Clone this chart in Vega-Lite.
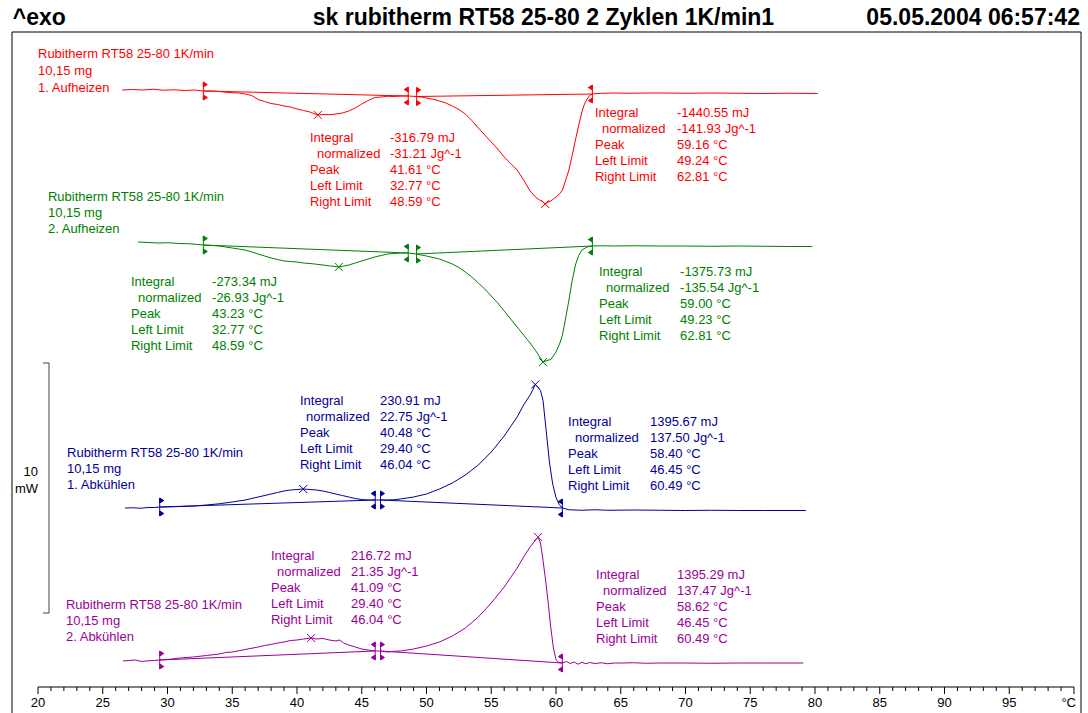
{
"$schema":"https://vega.github.io/schema/vega-lite/v6.json",
"width":1069,"height":655,
"autosize":{"type":"none"},
"padding":{"left":12,"top":32,"right":7,"bottom":26},
"background":"#ffffff",
"config":{"view":{"stroke":null},"font":"Liberation Sans","axis":{"disable":true}},
"datasets":{
"curves":[
{"s":"r","T":26.5,"y":24.92},{"s":"r","T":27.3,"y":24.94},{"s":"r","T":28.1,"y":24.92},{"s":"r","T":28.9,"y":24.95},{"s":"r","T":29.7,"y":24.91},{"s":"r","T":30.5,"y":24.93},{"s":"r","T":31.3,"y":24.90},{"s":"r","T":32.1,"y":24.92},{"s":"r","T":32.77,"y":24.88},{"s":"r","T":33.5,"y":24.88},{"s":"r","T":34.2,"y":24.85},{"s":"r","T":35.0,"y":24.81},{"s":"r","T":35.5,"y":24.80},{"s":"r","T":36.0,"y":24.76},{"s":"r","T":36.5,"y":24.70},{"s":"r","T":37.0,"y":24.54},{"s":"r","T":37.5,"y":24.46},{"s":"r","T":38.0,"y":24.38},{"s":"r","T":38.5,"y":24.34},{"s":"r","T":39.0,"y":24.28},{"s":"r","T":39.5,"y":24.24},{"s":"r","T":40.0,"y":24.16},{"s":"r","T":40.5,"y":24.10},{"s":"r","T":41.0,"y":24.04},{"s":"r","T":41.3,"y":23.98},{"s":"r","T":41.61,"y":23.92},{"s":"r","T":42.0,"y":23.94},{"s":"r","T":42.5,"y":23.93},{"s":"r","T":43.0,"y":23.96},{"s":"r","T":43.5,"y":24.00},{"s":"r","T":44.0,"y":24.08},{"s":"r","T":44.5,"y":24.20},{"s":"r","T":45.0,"y":24.36},{"s":"r","T":45.5,"y":24.50},{"s":"r","T":46.0,"y":24.62},{"s":"r","T":46.5,"y":24.64},{"s":"r","T":47.0,"y":24.67},{"s":"r","T":47.5,"y":24.66},{"s":"r","T":48.0,"y":24.68},{"s":"r","T":48.59,"y":24.68},{"s":"r","T":49.24,"y":24.66},{"s":"r","T":49.6,"y":24.64},{"s":"r","T":50.0,"y":24.60},{"s":"r","T":50.5,"y":24.55},{"s":"r","T":51.0,"y":24.48},{"s":"r","T":51.5,"y":24.40},{"s":"r","T":52.0,"y":24.28},{"s":"r","T":52.5,"y":24.14},{"s":"r","T":53.0,"y":23.96},{"s":"r","T":53.5,"y":23.70},{"s":"r","T":54.0,"y":23.40},{"s":"r","T":54.5,"y":23.12},{"s":"r","T":55.0,"y":22.84},{"s":"r","T":55.5,"y":22.56},{"s":"r","T":56.0,"y":22.24},{"s":"r","T":56.5,"y":21.98},{"s":"r","T":57.0,"y":21.72},{"s":"r","T":57.5,"y":21.32},{"s":"r","T":58.0,"y":20.88},{"s":"r","T":58.5,"y":20.60},{"s":"r","T":58.8,"y":20.50},{"s":"r","T":59.0,"y":20.44},{"s":"r","T":59.16,"y":20.36},{"s":"r","T":59.4,"y":20.44},{"s":"r","T":59.6,"y":20.48},{"s":"r","T":59.8,"y":20.56},{"s":"r","T":60.0,"y":20.64},{"s":"r","T":60.3,"y":20.78},{"s":"r","T":60.5,"y":20.92},{"s":"r","T":60.8,"y":21.40},{"s":"r","T":61.0,"y":21.72},{"s":"r","T":61.25,"y":22.30},{"s":"r","T":61.5,"y":22.92},{"s":"r","T":61.75,"y":23.50},{"s":"r","T":62.0,"y":24.04},{"s":"r","T":62.2,"y":24.36},{"s":"r","T":62.4,"y":24.56},{"s":"r","T":62.6,"y":24.70},{"s":"r","T":62.81,"y":24.76},{"s":"r","T":63.5,"y":24.79},{"s":"r","T":64.5,"y":24.80},{"s":"r","T":65.5,"y":24.79},{"s":"r","T":67,"y":24.80},{"s":"r","T":68.5,"y":24.80},{"s":"r","T":70,"y":24.79},{"s":"r","T":72,"y":24.80},{"s":"r","T":74,"y":24.79},{"s":"r","T":76,"y":24.78},{"s":"r","T":78,"y":24.79},{"s":"r","T":80.2,"y":24.78},
{"s":"g","T":27.72,"y":18.84},{"s":"g","T":28.5,"y":18.82},{"s":"g","T":29.3,"y":18.80},{"s":"g","T":30.1,"y":18.81},{"s":"g","T":30.9,"y":18.78},{"s":"g","T":31.7,"y":18.77},{"s":"g","T":32.3,"y":18.74},{"s":"g","T":32.77,"y":18.72},{"s":"g","T":33.5,"y":18.70},{"s":"g","T":34.0,"y":18.68},{"s":"g","T":34.5,"y":18.64},{"s":"g","T":35.0,"y":18.60},{"s":"g","T":35.5,"y":18.56},{"s":"g","T":36.0,"y":18.52},{"s":"g","T":36.5,"y":18.44},{"s":"g","T":37.0,"y":18.36},{"s":"g","T":37.5,"y":18.28},{"s":"g","T":38.0,"y":18.20},{"s":"g","T":38.5,"y":18.14},{"s":"g","T":39.0,"y":18.08},{"s":"g","T":39.5,"y":18.06},{"s":"g","T":40.0,"y":18.04},{"s":"g","T":40.5,"y":18.00},{"s":"g","T":41.0,"y":17.98},{"s":"g","T":41.5,"y":17.95},{"s":"g","T":42.0,"y":17.92},{"s":"g","T":42.6,"y":17.88},{"s":"g","T":43.23,"y":17.84},{"s":"g","T":43.6,"y":17.88},{"s":"g","T":44.0,"y":17.92},{"s":"g","T":44.5,"y":18.00},{"s":"g","T":45.0,"y":18.08},{"s":"g","T":45.5,"y":18.16},{"s":"g","T":46.0,"y":18.24},{"s":"g","T":46.5,"y":18.30},{"s":"g","T":47.0,"y":18.36},{"s":"g","T":47.5,"y":18.38},{"s":"g","T":48.0,"y":18.40},{"s":"g","T":48.59,"y":18.40},{"s":"g","T":49.23,"y":18.36},{"s":"g","T":49.6,"y":18.32},{"s":"g","T":50.0,"y":18.28},{"s":"g","T":50.5,"y":18.22},{"s":"g","T":51.0,"y":18.16},{"s":"g","T":51.5,"y":18.06},{"s":"g","T":52.0,"y":17.96},{"s":"g","T":52.5,"y":17.82},{"s":"g","T":53.0,"y":17.64},{"s":"g","T":53.5,"y":17.44},{"s":"g","T":54.0,"y":17.20},{"s":"g","T":54.5,"y":16.96},{"s":"g","T":55.0,"y":16.68},{"s":"g","T":55.5,"y":16.40},{"s":"g","T":56.0,"y":16.08},{"s":"g","T":56.5,"y":15.76},{"s":"g","T":57.0,"y":15.44},{"s":"g","T":57.5,"y":15.12},{"s":"g","T":58.0,"y":14.80},{"s":"g","T":58.5,"y":14.44},{"s":"g","T":58.8,"y":14.20},{"s":"g","T":59.0,"y":14.04},{"s":"g","T":59.3,"y":14.10},{"s":"g","T":59.6,"y":14.14},{"s":"g","T":60.0,"y":14.44},{"s":"g","T":60.3,"y":14.80},{"s":"g","T":60.5,"y":15.12},{"s":"g","T":60.75,"y":15.80},{"s":"g","T":61.0,"y":16.52},{"s":"g","T":61.25,"y":17.30},{"s":"g","T":61.5,"y":17.92},{"s":"g","T":61.75,"y":18.30},{"s":"g","T":62.0,"y":18.52},{"s":"g","T":62.4,"y":18.64},{"s":"g","T":62.81,"y":18.68},{"s":"g","T":63.5,"y":18.69},{"s":"g","T":64.5,"y":18.68},{"s":"g","T":66,"y":18.69},{"s":"g","T":68,"y":18.68},{"s":"g","T":70,"y":18.68},{"s":"g","T":72,"y":18.67},{"s":"g","T":74,"y":18.68},{"s":"g","T":76,"y":18.67},{"s":"g","T":78,"y":18.66},{"s":"g","T":79.8,"y":18.66},
{"s":"b","T":26.72,"y":8.20},{"s":"b","T":27.3,"y":8.21},{"s":"b","T":27.9,"y":8.19},{"s":"b","T":28.5,"y":8.22},{"s":"b","T":29.0,"y":8.22},{"s":"b","T":29.4,"y":8.24},{"s":"b","T":30.2,"y":8.25},{"s":"b","T":31.0,"y":8.26},{"s":"b","T":32.0,"y":8.28},{"s":"b","T":33.0,"y":8.32},{"s":"b","T":34.0,"y":8.37},{"s":"b","T":35.0,"y":8.44},{"s":"b","T":36.0,"y":8.52},{"s":"b","T":37.0,"y":8.64},{"s":"b","T":38.0,"y":8.76},{"s":"b","T":38.5,"y":8.82},{"s":"b","T":39.0,"y":8.88},{"s":"b","T":39.5,"y":8.92},{"s":"b","T":40.0,"y":8.94},{"s":"b","T":40.48,"y":8.96},{"s":"b","T":41.0,"y":8.94},{"s":"b","T":41.5,"y":8.92},{"s":"b","T":42.0,"y":8.88},{"s":"b","T":42.5,"y":8.82},{"s":"b","T":43.0,"y":8.76},{"s":"b","T":43.5,"y":8.70},{"s":"b","T":44.0,"y":8.64},{"s":"b","T":44.5,"y":8.58},{"s":"b","T":45.0,"y":8.54},{"s":"b","T":45.5,"y":8.52},{"s":"b","T":46.04,"y":8.52},{"s":"b","T":46.45,"y":8.52},{"s":"b","T":47.0,"y":8.52},{"s":"b","T":47.5,"y":8.53},{"s":"b","T":48.0,"y":8.56},{"s":"b","T":48.5,"y":8.60},{"s":"b","T":49.0,"y":8.64},{"s":"b","T":49.5,"y":8.70},{"s":"b","T":50.0,"y":8.76},{"s":"b","T":50.5,"y":8.86},{"s":"b","T":51.0,"y":8.96},{"s":"b","T":51.5,"y":9.08},{"s":"b","T":52.0,"y":9.20},{"s":"b","T":52.5,"y":9.36},{"s":"b","T":53.0,"y":9.52},{"s":"b","T":53.5,"y":9.72},{"s":"b","T":54.0,"y":9.92},{"s":"b","T":54.5,"y":10.18},{"s":"b","T":55.0,"y":10.44},{"s":"b","T":55.5,"y":10.76},{"s":"b","T":56.0,"y":11.08},{"s":"b","T":56.5,"y":11.46},{"s":"b","T":57.0,"y":11.84},{"s":"b","T":57.5,"y":12.32},{"s":"b","T":58.0,"y":12.72},{"s":"b","T":58.2,"y":12.92},{"s":"b","T":58.4,"y":13.14},{"s":"b","T":58.6,"y":13.04},{"s":"b","T":58.8,"y":12.90},{"s":"b","T":59.0,"y":12.50},{"s":"b","T":59.25,"y":11.25},{"s":"b","T":59.5,"y":10.00},{"s":"b","T":59.75,"y":9.15},{"s":"b","T":60.0,"y":8.62},{"s":"b","T":60.25,"y":8.34},{"s":"b","T":60.49,"y":8.20},{"s":"b","T":61.0,"y":8.13},{"s":"b","T":62,"y":8.11},{"s":"b","T":63,"y":8.13},{"s":"b","T":64,"y":8.11},{"s":"b","T":66,"y":8.12},{"s":"b","T":68,"y":8.11},{"s":"b","T":70,"y":8.10},{"s":"b","T":72,"y":8.11},{"s":"b","T":74,"y":8.10},{"s":"b","T":76,"y":8.10},{"s":"b","T":79.3,"y":8.10},
{"s":"m","T":26.56,"y":2.08},{"s":"m","T":27.0,"y":2.10},{"s":"m","T":27.5,"y":2.12},{"s":"m","T":28.0,"y":2.06},{"s":"m","T":28.5,"y":2.09},{"s":"m","T":29.0,"y":2.10},{"s":"m","T":29.4,"y":2.12},{"s":"m","T":30.0,"y":2.14},{"s":"m","T":30.5,"y":2.17},{"s":"m","T":31.0,"y":2.20},{"s":"m","T":32.0,"y":2.24},{"s":"m","T":33.0,"y":2.30},{"s":"m","T":34.0,"y":2.36},{"s":"m","T":34.5,"y":2.42},{"s":"m","T":35.0,"y":2.44},{"s":"m","T":36.0,"y":2.54},{"s":"m","T":37.0,"y":2.64},{"s":"m","T":37.5,"y":2.70},{"s":"m","T":38.0,"y":2.74},{"s":"m","T":38.5,"y":2.80},{"s":"m","T":39.0,"y":2.84},{"s":"m","T":39.5,"y":2.90},{"s":"m","T":40.0,"y":2.92},{"s":"m","T":40.5,"y":2.96},{"s":"m","T":41.09,"y":3.00},{"s":"m","T":41.5,"y":2.96},{"s":"m","T":42.0,"y":2.98},{"s":"m","T":42.5,"y":2.92},{"s":"m","T":43.0,"y":2.88},{"s":"m","T":43.3,"y":2.92},{"s":"m","T":43.6,"y":2.80},{"s":"m","T":44.0,"y":2.72},{"s":"m","T":44.5,"y":2.64},{"s":"m","T":45.0,"y":2.56},{"s":"m","T":45.5,"y":2.52},{"s":"m","T":46.04,"y":2.48},{"s":"m","T":46.45,"y":2.48},{"s":"m","T":47.0,"y":2.44},{"s":"m","T":47.5,"y":2.47},{"s":"m","T":48.0,"y":2.48},{"s":"m","T":48.5,"y":2.52},{"s":"m","T":49.0,"y":2.56},{"s":"m","T":49.5,"y":2.62},{"s":"m","T":50.0,"y":2.68},{"s":"m","T":50.5,"y":2.76},{"s":"m","T":51.0,"y":2.84},{"s":"m","T":51.5,"y":2.96},{"s":"m","T":52.0,"y":3.08},{"s":"m","T":52.5,"y":3.24},{"s":"m","T":53.0,"y":3.40},{"s":"m","T":53.5,"y":3.62},{"s":"m","T":54.0,"y":3.84},{"s":"m","T":54.5,"y":4.12},{"s":"m","T":55.0,"y":4.40},{"s":"m","T":55.5,"y":4.72},{"s":"m","T":56.0,"y":5.04},{"s":"m","T":56.5,"y":5.42},{"s":"m","T":57.0,"y":5.80},{"s":"m","T":57.5,"y":6.24},{"s":"m","T":58.0,"y":6.64},{"s":"m","T":58.3,"y":6.84},{"s":"m","T":58.62,"y":7.04},{"s":"m","T":58.8,"y":6.80},{"s":"m","T":59.0,"y":6.10},{"s":"m","T":59.2,"y":5.30},{"s":"m","T":59.4,"y":4.40},{"s":"m","T":59.6,"y":3.40},{"s":"m","T":59.8,"y":2.60},{"s":"m","T":60.0,"y":2.14},{"s":"m","T":60.2,"y":2.02},{"s":"m","T":60.49,"y":2.00},{"s":"m","T":60.8,"y":2.06},{"s":"m","T":61.1,"y":1.98},{"s":"m","T":61.4,"y":2.04},{"s":"m","T":61.7,"y":1.95},{"s":"m","T":62.0,"y":2.03},{"s":"m","T":62.3,"y":1.97},{"s":"m","T":62.6,"y":2.02},{"s":"m","T":63.0,"y":1.98},{"s":"m","T":63.5,"y":2.01},{"s":"m","T":64.0,"y":1.97},{"s":"m","T":64.5,"y":2.00},{"s":"m","T":65,"y":2.00},{"s":"m","T":66,"y":2.01},{"s":"m","T":67,"y":1.99},{"s":"m","T":68,"y":2.00},{"s":"m","T":70,"y":2.00},{"s":"m","T":72,"y":1.99},{"s":"m","T":74,"y":2.00},{"s":"m","T":76,"y":2.00},{"s":"m","T":79.1,"y":2.00}
],
"baselines":[
{"s":"r","T":32.77,"y":24.88,"T2":48.59,"y2":24.68},{"s":"r","T":49.24,"y":24.66,"T2":62.81,"y2":24.76},
{"s":"g","T":32.77,"y":18.72,"T2":48.59,"y2":18.40},{"s":"g","T":49.23,"y":18.36,"T2":62.81,"y2":18.68},
{"s":"b","T":29.40,"y":8.24,"T2":46.04,"y2":8.52},{"s":"b","T":46.45,"y":8.52,"T2":60.49,"y2":8.20},
{"s":"m","T":29.40,"y":2.12,"T2":46.04,"y2":2.48},{"s":"m","T":46.45,"y":2.48,"T2":60.49,"y2":2.00}
],
"markers":[
{"s":"r","T":32.77,"y":24.88,"m":"L"},{"s":"r","T":48.59,"y":24.68,"m":"R"},{"s":"r","T":49.24,"y":24.66,"m":"L"},{"s":"r","T":62.81,"y":24.76,"m":"R"},{"s":"r","T":41.61,"y":23.92,"m":"P"},{"s":"r","T":59.16,"y":20.36,"m":"P"},
{"s":"g","T":32.77,"y":18.72,"m":"L"},{"s":"g","T":48.59,"y":18.40,"m":"R"},{"s":"g","T":49.23,"y":18.36,"m":"L"},{"s":"g","T":62.81,"y":18.68,"m":"R"},{"s":"g","T":43.23,"y":17.84,"m":"P"},{"s":"g","T":59.00,"y":14.04,"m":"P"},
{"s":"b","T":29.40,"y":8.24,"m":"L"},{"s":"b","T":46.04,"y":8.52,"m":"R"},{"s":"b","T":46.45,"y":8.52,"m":"L"},{"s":"b","T":60.49,"y":8.20,"m":"R"},{"s":"b","T":40.48,"y":8.96,"m":"P"},{"s":"b","T":58.40,"y":13.14,"m":"P"},
{"s":"m","T":29.40,"y":2.12,"m":"L"},{"s":"m","T":46.04,"y":2.48,"m":"R"},{"s":"m","T":46.45,"y":2.48,"m":"L"},{"s":"m","T":60.49,"y":2.00,"m":"R"},{"s":"m","T":41.09,"y":3.00,"m":"P"},{"s":"m","T":58.62,"y":7.04,"m":"P"}
],
"texts":[
{"s":"r","T":20.0,"y":26.36,"t":"Rubitherm RT58 25-80 1K/min"},{"s":"r","T":20.0,"y":25.68,"t":"10,15 mg"},{"s":"r","T":20.0,"y":25.00,"t":"1. Aufheizen"},
{"s":"r","T":41.0,"y":23.00,"t":"Integral"},{"s":"r","T":41.54,"y":22.36,"t":"normalized"},{"s":"r","T":41.0,"y":21.72,"t":"Peak"},{"s":"r","T":41.0,"y":21.08,"t":"Left Limit"},{"s":"r","T":41.0,"y":20.44,"t":"Right Limit"},
{"s":"r","T":47.18,"y":23.00,"t":"-316.79 mJ"},{"s":"r","T":47.18,"y":22.36,"t":"-31.21 Jg^-1"},{"s":"r","T":47.18,"y":21.72,"t":"41.61 °C"},{"s":"r","T":47.18,"y":21.08,"t":"32.77 °C"},{"s":"r","T":47.18,"y":20.44,"t":"48.59 °C"},
{"s":"r","T":63.01,"y":24.00,"t":"Integral"},{"s":"r","T":63.55,"y":23.36,"t":"normalized"},{"s":"r","T":63.01,"y":22.72,"t":"Peak"},{"s":"r","T":63.01,"y":22.08,"t":"Left Limit"},{"s":"r","T":63.01,"y":21.44,"t":"Right Limit"},
{"s":"r","T":69.34,"y":24.00,"t":"-1440.55 mJ"},{"s":"r","T":69.34,"y":23.36,"t":"-141.93 Jg^-1"},{"s":"r","T":69.34,"y":22.72,"t":"59.16 °C"},{"s":"r","T":69.34,"y":22.08,"t":"49.24 °C"},{"s":"r","T":69.34,"y":21.44,"t":"62.81 °C"},
{"s":"g","T":20.77,"y":20.64,"t":"Rubitherm RT58 25-80 1K/min"},{"s":"g","T":20.77,"y":20.00,"t":"10,15 mg"},{"s":"g","T":20.77,"y":19.36,"t":"2. Aufheizen"},
{"s":"g","T":27.18,"y":17.24,"t":"Integral"},{"s":"g","T":27.72,"y":16.60,"t":"normalized"},{"s":"g","T":27.18,"y":15.96,"t":"Peak"},{"s":"g","T":27.18,"y":15.32,"t":"Left Limit"},{"s":"g","T":27.18,"y":14.68,"t":"Right Limit"},
{"s":"g","T":33.44,"y":17.24,"t":"-273.34 mJ"},{"s":"g","T":33.44,"y":16.60,"t":"-26.93 Jg^-1"},{"s":"g","T":33.44,"y":15.96,"t":"43.23 °C"},{"s":"g","T":33.44,"y":15.32,"t":"32.77 °C"},{"s":"g","T":33.44,"y":14.68,"t":"48.59 °C"},
{"s":"g","T":63.32,"y":17.64,"t":"Integral"},{"s":"g","T":63.86,"y":17.00,"t":"normalized"},{"s":"g","T":63.32,"y":16.36,"t":"Peak"},{"s":"g","T":63.32,"y":15.72,"t":"Left Limit"},{"s":"g","T":63.32,"y":15.08,"t":"Right Limit"},
{"s":"g","T":69.58,"y":17.64,"t":"-1375.73 mJ"},{"s":"g","T":69.58,"y":17.00,"t":"-135.54 Jg^-1"},{"s":"g","T":69.58,"y":16.36,"t":"59.00 °C"},{"s":"g","T":69.58,"y":15.72,"t":"49.23 °C"},{"s":"g","T":69.58,"y":15.08,"t":"62.81 °C"},
{"s":"b","T":22.24,"y":10.40,"t":"Rubitherm RT58 25-80 1K/min"},{"s":"b","T":22.24,"y":9.76,"t":"10,15 mg"},{"s":"b","T":22.24,"y":9.12,"t":"1. Abkühlen"},
{"s":"b","T":40.23,"y":12.48,"t":"Integral"},{"s":"b","T":40.70,"y":11.84,"t":"normalized"},{"s":"b","T":40.23,"y":11.20,"t":"Peak"},{"s":"b","T":40.23,"y":10.56,"t":"Left Limit"},{"s":"b","T":40.23,"y":9.92,"t":"Right Limit"},
{"s":"b","T":46.41,"y":12.48,"t":"230.91 mJ"},{"s":"b","T":46.41,"y":11.84,"t":"22.75 Jg^-1"},{"s":"b","T":46.41,"y":11.20,"t":"40.48 °C"},{"s":"b","T":46.41,"y":10.56,"t":"29.40 °C"},{"s":"b","T":46.41,"y":9.92,"t":"46.04 °C"},
{"s":"b","T":60.93,"y":11.64,"t":"Integral"},{"s":"b","T":61.47,"y":11.00,"t":"normalized"},{"s":"b","T":60.93,"y":10.36,"t":"Peak"},{"s":"b","T":60.93,"y":9.72,"t":"Left Limit"},{"s":"b","T":60.93,"y":9.08,"t":"Right Limit"},
{"s":"b","T":67.26,"y":11.64,"t":"1395.67 mJ"},{"s":"b","T":67.26,"y":11.00,"t":"137.50 Jg^-1"},{"s":"b","T":67.26,"y":10.36,"t":"58.40 °C"},{"s":"b","T":67.26,"y":9.72,"t":"46.45 °C"},{"s":"b","T":67.26,"y":9.08,"t":"60.49 °C"},
{"s":"m","T":22.16,"y":4.32,"t":"Rubitherm  RT58 25-80 1K/min"},{"s":"m","T":22.16,"y":3.68,"t":"10,15 mg"},{"s":"m","T":22.16,"y":3.04,"t":"2. Abkühlen"},
{"s":"m","T":37.99,"y":6.28,"t":"Integral"},{"s":"m","T":38.46,"y":5.64,"t":"normalized"},{"s":"m","T":37.99,"y":5.00,"t":"Peak"},{"s":"m","T":37.99,"y":4.36,"t":"Left Limit"},{"s":"m","T":37.99,"y":3.72,"t":"Right Limit"},
{"s":"m","T":44.17,"y":6.28,"t":"216.72 mJ"},{"s":"m","T":44.17,"y":5.64,"t":"21.35 Jg^-1"},{"s":"m","T":44.17,"y":5.00,"t":"41.09 °C"},{"s":"m","T":44.17,"y":4.36,"t":"29.40 °C"},{"s":"m","T":44.17,"y":3.72,"t":"46.04 °C"},
{"s":"m","T":63.09,"y":5.52,"t":"Integral"},{"s":"m","T":63.63,"y":4.88,"t":"normalized"},{"s":"m","T":63.09,"y":4.24,"t":"Peak"},{"s":"m","T":63.09,"y":3.60,"t":"Left Limit"},{"s":"m","T":63.09,"y":2.96,"t":"Right Limit"},
{"s":"m","T":69.34,"y":5.52,"t":"1395.29 mJ"},{"s":"m","T":69.34,"y":4.88,"t":"137.47 Jg^-1"},{"s":"m","T":69.34,"y":4.24,"t":"58.62 °C"},{"s":"m","T":69.34,"y":3.60,"t":"46.45 °C"},{"s":"m","T":69.34,"y":2.96,"t":"60.49 °C"}
],
"frame":[
{"T":17.992,"y":27.24,"T2":100.541,"y2":27.24},
{"T":17.992,"y":27.24,"T2":17.992,"y2":-0.2},
{"T":100.541,"y":27.24,"T2":100.541,"y2":-0.2}
],
"majorTicks":[
{"T":20,"lab":"20"},{"T":25,"lab":"25"},{"T":30,"lab":"30"},{"T":35,"lab":"35"},{"T":40,"lab":"40"},{"T":45,"lab":"45"},{"T":50,"lab":"50"},{"T":55,"lab":"55"},{"T":60,"lab":"60"},{"T":65,"lab":"65"},{"T":70,"lab":"70"},{"T":75,"lab":"75"},{"T":80,"lab":"80"},{"T":85,"lab":"85"},{"T":90,"lab":"90"},{"T":95,"lab":"95"},{"T":100,"lab":"°C"}
],
"minorTicks":[
{"T":21},{"T":22},{"T":23},{"T":24},{"T":26},{"T":27},{"T":28},{"T":29},{"T":31},{"T":32},{"T":33},{"T":34},{"T":36},{"T":37},{"T":38},{"T":39},{"T":41},{"T":42},{"T":43},{"T":44},{"T":46},{"T":47},{"T":48},{"T":49},{"T":51},{"T":52},{"T":53},{"T":54},{"T":56},{"T":57},{"T":58},{"T":59},{"T":61},{"T":62},{"T":63},{"T":64},{"T":66},{"T":67},{"T":68},{"T":69},{"T":71},{"T":72},{"T":73},{"T":74},{"T":76},{"T":77},{"T":78},{"T":79},{"T":81},{"T":82},{"T":83},{"T":84},{"T":86},{"T":87},{"T":88},{"T":89},{"T":91},{"T":92},{"T":93},{"T":94},{"T":96},{"T":97},{"T":98},{"T":99}
]
},
"layer":[
{"data":{"name":"curves"},
 "mark":{"type":"line","strokeWidth":1,"clip":false},
 "encoding":{
  "x":{"field":"T","type":"quantitative","axis":null,"scale":{"domain":[17.992,100.541],"nice":false,"zero":false}},
  "y":{"field":"y","type":"quantitative","scale":{"domain":[1.04,27.24],"nice":false,"zero":false},"axis":null},
  "color":{"field":"s","type":"nominal","scale":{"domain":["r","g","b","m"],"range":["#ff0000","#008000","#000099","#990099"]},"legend":null}
 }},
{"data":{"name":"baselines"},
 "mark":{"type":"rule","strokeWidth":1},
 "encoding":{
  "x":{"field":"T","type":"quantitative","axis":null,"scale":{"domain":[17.992,100.541],"nice":false,"zero":false}},
  "x2":{"field":"T2"},
  "y":{"field":"y","type":"quantitative","scale":{"domain":[1.04,27.24],"nice":false,"zero":false},"axis":null},
  "y2":{"field":"y2"},
  "color":{"field":"s","type":"nominal","scale":{"domain":["r","g","b","m"],"range":["#ff0000","#008000","#000099","#990099"]},"legend":null}
 }},
{"data":{"name":"markers"},
 "mark":{"type":"point","filled":true,"opacity":1,"strokeWidth":1,"size":4},
 "encoding":{
  "x":{"field":"T","type":"quantitative","axis":null,"scale":{"domain":[17.992,100.541],"nice":false,"zero":false}},
  "y":{"field":"y","type":"quantitative","scale":{"domain":[1.04,27.24],"nice":false,"zero":false},"axis":null},
  "shape":{"field":"m","type":"nominal","scale":{"domain":["L","R","P"],"range":["M0,-9L0,9M0,-9L4,-6.5L0,-4ZM0,4L4,6.5L0,9Z","M0,-9L0,9M0,-9L-4,-6.5L0,-4ZM0,4L-4,6.5L0,9Z","M-4,-4L4,4M-4,4L4,-4"]},"legend":null},
  "fill":{"field":"s","type":"nominal","scale":{"domain":["r","g","b","m"],"range":["#ff0000","#008000","#000099","#990099"]},"legend":null},
  "stroke":{"field":"s","type":"nominal","scale":{"domain":["r","g","b","m"],"range":["#ff0000","#008000","#000099","#990099"]},"legend":null}
 }},
{"data":{"name":"texts"},
 "mark":{"type":"text","align":"left","baseline":"middle","font":"Liberation Sans","fontSize":13},
 "encoding":{
  "x":{"field":"T","type":"quantitative","axis":null,"scale":{"domain":[17.992,100.541],"nice":false,"zero":false}},
  "y":{"field":"y","type":"quantitative","scale":{"domain":[1.04,27.24],"nice":false,"zero":false},"axis":null},
  "text":{"field":"t"},
  "color":{"field":"s","type":"nominal","scale":{"domain":["r","g","b","m"],"range":["#ff0000","#008000","#000099","#990099"]},"legend":null}
 }},
{"data":{"name":"frame"},
 "mark":{"type":"rule","color":"#000000","strokeWidth":1},
 "encoding":{
  "x":{"field":"T","type":"quantitative","axis":null,"scale":{"domain":[17.992,100.541],"nice":false,"zero":false}},
  "x2":{"field":"T2"},
  "y":{"field":"y","type":"quantitative","scale":{"domain":[1.04,27.24],"nice":false,"zero":false},"axis":null},
  "y2":{"field":"y2"}
 }},
{"data":{"values":[{"T":20.0,"y":1.04,"T2":100.0,"y2":1.04}]},
 "mark":{"type":"rule","color":"#000000","strokeWidth":1},
 "encoding":{
  "x":{"field":"T","type":"quantitative","axis":null,"scale":{"domain":[17.992,100.541],"nice":false,"zero":false}},
  "x2":{"field":"T2"},
  "y":{"field":"y","type":"quantitative","scale":{"domain":[1.04,27.24],"nice":false,"zero":false},"axis":null},
  "y2":{"field":"y2"}
 }},
{"data":{"name":"majorTicks"},
 "mark":{"type":"rule","color":"#000000","strokeWidth":1},
 "encoding":{
  "x":{"field":"T","type":"quantitative","axis":null,"scale":{"domain":[17.992,100.541],"nice":false,"zero":false}},
  "y":{"datum":1.04,"type":"quantitative","scale":{"domain":[1.04,27.24],"nice":false,"zero":false},"axis":null},
  "y2":{"datum":0.76}
 }},
{"data":{"name":"minorTicks"},
 "mark":{"type":"rule","color":"#000000","strokeWidth":1},
 "encoding":{
  "x":{"field":"T","type":"quantitative","axis":null,"scale":{"domain":[17.992,100.541],"nice":false,"zero":false}},
  "y":{"datum":1.04,"type":"quantitative","scale":{"domain":[1.04,27.24],"nice":false,"zero":false},"axis":null},
  "y2":{"datum":0.88}
 }},
{"data":{"name":"majorTicks"},
 "transform":[{"filter":"datum.T < 100"}],
 "mark":{"type":"text","align":"center","baseline":"middle","font":"Liberation Sans","fontSize":13,"color":"#000000"},
 "encoding":{
  "x":{"field":"T","type":"quantitative","axis":null,"scale":{"domain":[17.992,100.541],"nice":false,"zero":false}},
  "y":{"datum":0.40,"type":"quantitative","scale":{"domain":[1.04,27.24],"nice":false,"zero":false},"axis":null},
  "text":{"field":"lab"}
 }},
{"data":{"name":"majorTicks"},
 "transform":[{"filter":"datum.T == 100"}],
 "mark":{"type":"text","align":"right","baseline":"middle","font":"Liberation Sans","fontSize":13,"color":"#000000","dx":2},
 "encoding":{
  "x":{"field":"T","type":"quantitative","axis":null,"scale":{"domain":[17.992,100.541],"nice":false,"zero":false}},
  "y":{"datum":0.40,"type":"quantitative","scale":{"domain":[1.04,27.24],"nice":false,"zero":false},"axis":null},
  "text":{"field":"lab"}
 }},
{"data":{"values":[{"T":20.85,"y":4,"T2":20.85,"y2":14},{"T":20.39,"y":14,"T2":20.85,"y2":14},{"T":20.39,"y":4,"T2":20.85,"y2":4}]},
 "mark":{"type":"rule","color":"#404040","strokeWidth":1},
 "encoding":{
  "x":{"field":"T","type":"quantitative","axis":null,"scale":{"domain":[17.992,100.541],"nice":false,"zero":false}},
  "x2":{"field":"T2"},
  "y":{"field":"y","type":"quantitative","scale":{"domain":[1.04,27.24],"nice":false,"zero":false},"axis":null},
  "y2":{"field":"y2"}
 }},
{"data":{"values":[{"T":20.0,"y":9.64,"t":"10"},{"T":20.0,"y":8.96,"t":"mW"}]},
 "mark":{"type":"text","align":"right","baseline":"middle","font":"Liberation Sans","fontSize":13,"color":"#000000"},
 "encoding":{
  "x":{"field":"T","type":"quantitative","axis":null,"scale":{"domain":[17.992,100.541],"nice":false,"zero":false}},
  "y":{"field":"y","type":"quantitative","scale":{"domain":[1.04,27.24],"nice":false,"zero":false},"axis":null},
  "text":{"field":"t"}
 }},
{"data":{"values":[{"T":18.05,"y":27.8,"t":"^exo"}]},
 "mark":{"type":"text","align":"left","baseline":"middle","font":"Liberation Sans","fontSize":23,"fontWeight":"bold","color":"#000000"},
 "encoding":{
  "x":{"field":"T","type":"quantitative","axis":null,"scale":{"domain":[17.992,100.541],"nice":false,"zero":false}},
  "y":{"field":"y","type":"quantitative","scale":{"domain":[1.04,27.24],"nice":false,"zero":false},"axis":null},
  "text":{"field":"t"}
 }},
{"data":{"values":[{"T":59.03,"y":27.8,"t":"sk rubitherm RT58 25-80 2 Zyklen 1K/min1"}]},
 "mark":{"type":"text","align":"center","baseline":"middle","font":"Liberation Sans","fontSize":23,"fontWeight":"bold","color":"#000000"},
 "encoding":{
  "x":{"field":"T","type":"quantitative","axis":null,"scale":{"domain":[17.992,100.541],"nice":false,"zero":false}},
  "y":{"field":"y","type":"quantitative","scale":{"domain":[1.04,27.24],"nice":false,"zero":false},"axis":null},
  "text":{"field":"t"}
 }},
{"data":{"values":[{"T":100.46,"y":27.8,"t":"05.05.2004 06:57:42"}]},
 "mark":{"type":"text","align":"right","baseline":"middle","font":"Liberation Sans","fontSize":23,"fontWeight":"bold","color":"#000000"},
 "encoding":{
  "x":{"field":"T","type":"quantitative","axis":null,"scale":{"domain":[17.992,100.541],"nice":false,"zero":false}},
  "y":{"field":"y","type":"quantitative","scale":{"domain":[1.04,27.24],"nice":false,"zero":false},"axis":null},
  "text":{"field":"t"}
 }}
]
}
